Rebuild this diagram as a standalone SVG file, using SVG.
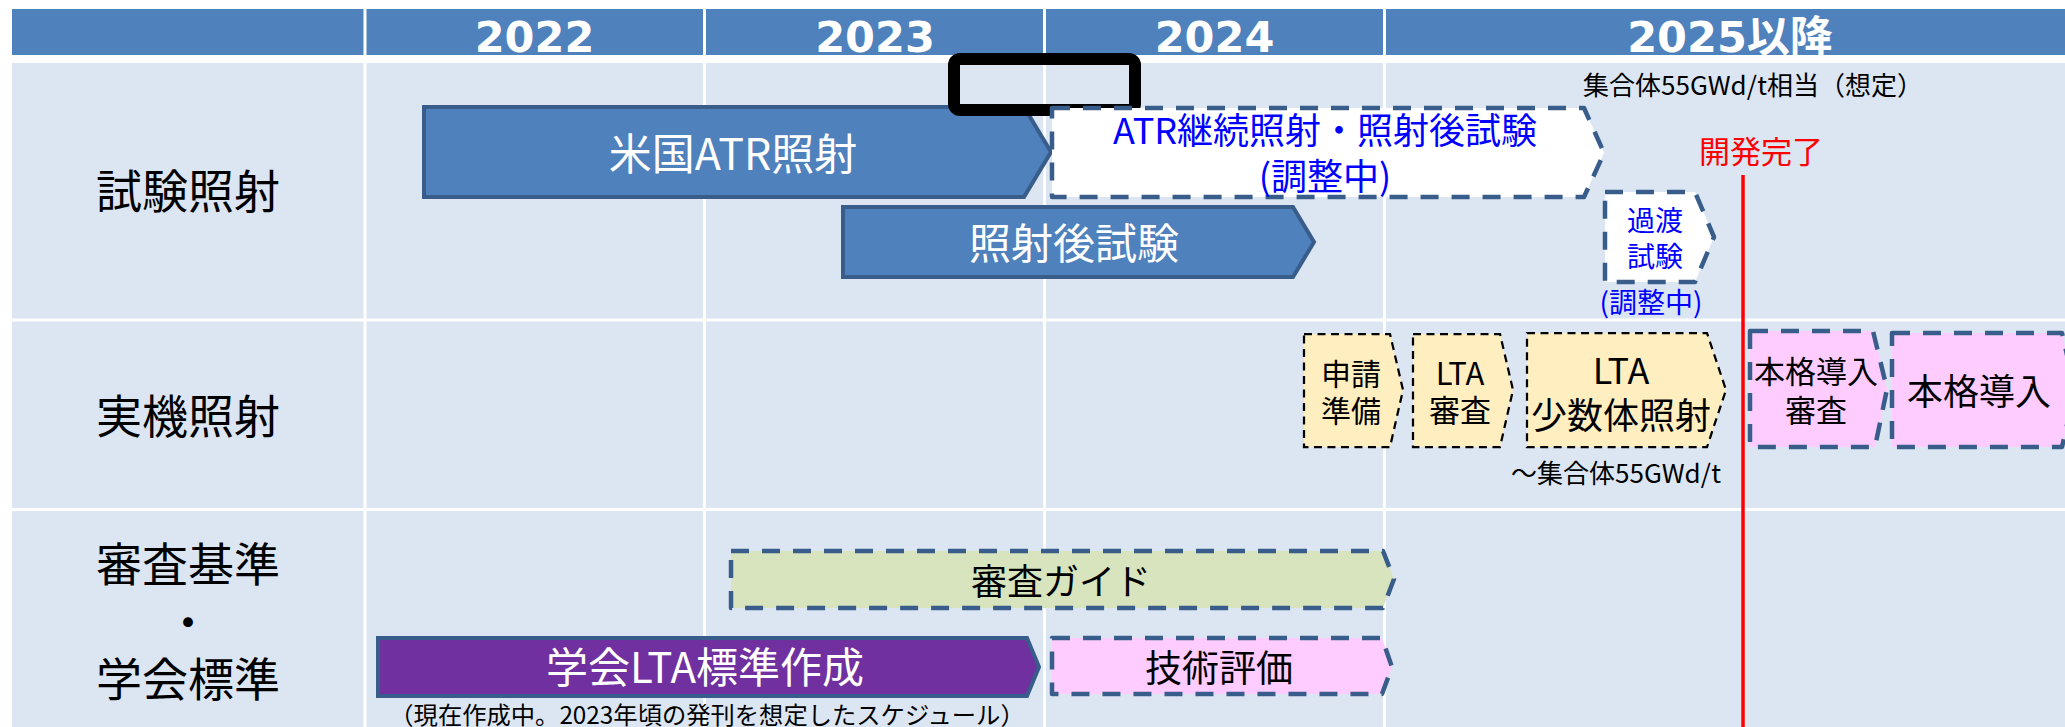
<svg xmlns="http://www.w3.org/2000/svg" width="2065" height="727" viewBox="0 0 2065 727">
<style>
text{font-family:"Noto Sans CJK JP","Noto Sans",sans-serif;text-anchor:middle}
.hdr{font-family:"DejaVu Sans","Noto Sans CJK JP",sans-serif;font-weight:bold;font-size:43px;fill:#fff}
.lbl{font-size:46px;fill:#000}
.solid{fill:#4F81BD;stroke:#385D8A;stroke-width:4;stroke-linejoin:miter}
.dash{stroke:#385D8A;stroke-width:4.5;stroke-dasharray:18 13;stroke-linejoin:round}
.ydash{fill:#FFEFC0;stroke:#000;stroke-width:2.25;stroke-dasharray:8 5.5}
.w{fill:#fff}
.b{fill:#0000FF}
.k{fill:#000}
.grid{stroke:#fff;stroke-width:3}
</style>
<rect x="0" y="0" width="2065" height="727" fill="#fff"/>
<g id="table">
<rect x="12" y="9" width="2053" height="46" fill="#4F81BD"/>
<rect x="12" y="63" width="2053" height="664" fill="#DCE6F2"/>
<line class="grid" x1="365" y1="9" x2="365" y2="727"/>
<line class="grid" x1="704.5" y1="9" x2="704.5" y2="727"/>
<line class="grid" x1="1044.5" y1="9" x2="1044.5" y2="727"/>
<line class="grid" x1="1384.5" y1="9" x2="1384.5" y2="727"/>
<line class="grid" x1="12" y1="320" x2="2065" y2="320"/>
<line class="grid" x1="12" y1="509.5" x2="2065" y2="509.5"/>
<text class="hdr" x="534.5" y="52">2022</text>
<text class="hdr" x="875" y="52">2023</text>
<text class="hdr" x="1214.5" y="52">2024</text>
<text class="hdr" x="1730" y="52">2025以降</text>
</g>
<g id="row-labels">
<text class="lbl" x="188" y="208">試験照射</text>
<text class="lbl" x="188" y="433">実機照射</text>
<text class="lbl" x="188" y="581">審査基準</text>
<text class="lbl" x="188" y="639">・</text>
<text class="lbl" x="188" y="696">学会標準</text>
</g>
<g id="us-atr">
<polygon class="solid" points="424,107 1024,107 1051,152 1024,197 424,197"/>
<text class="w" x="733" y="170" font-size="43">米国ATR照射</text>
</g>
<g id="pie">
<polygon class="solid" points="843,207 1293,207 1314,242 1293,277 843,277"/>
<text class="w" x="1074" y="259" font-size="42">照射後試験</text>
</g>
<g id="highlight">
<rect x="954" y="59" width="181" height="51" rx="6" fill="none" stroke="#000" stroke-width="12"/>
</g>
<g id="atr-cont">
<polygon class="dash" fill="#fff" points="1052,108 1584,108 1604,153 1584,197 1052,197"/>
<text class="b" x="1325" y="144" font-size="36">ATR継続照射・照射後試験</text>
<text class="b" x="1325" y="190" font-size="36">(調整中)</text>
</g>
<g id="transient">
<polygon class="dash" fill="#fff" points="1605,192 1695,192 1714,237 1695,282 1605,282"/>
<text class="b" x="1655" y="230.5" font-size="28">過渡</text>
<text class="b" x="1655" y="267" font-size="28">試験</text>
<text class="b" x="1651" y="313" font-size="28">(調整中)</text>
</g>
<g id="note-55">
<text class="k" x="1753" y="95" font-size="26">集合体55GWd/t相当（想定）</text>
</g>
<g id="milestone">
<line x1="1743" y1="175" x2="1743" y2="727" stroke="#FF0000" stroke-width="3.5"/>
<text x="1761" y="163" font-size="31" fill="#FF0000">開発完了</text>
</g>
<g id="apply-prep">
<polygon class="ydash" points="1304,334 1390,334 1403,390 1390,447 1304,447"/>
<text class="k" x="1351" y="385" font-size="30">申請</text>
<text class="k" x="1351" y="421.5" font-size="30">準備</text>
</g>
<g id="lta-review">
<polygon class="ydash" points="1413,334 1500,334 1513,390 1500,447 1413,447"/>
<text class="k" x="1460" y="385" font-size="31">LTA</text>
<text class="k" x="1460" y="421.5" font-size="31">審査</text>
</g>
<g id="lta-irr">
<polygon class="ydash" points="1527,333 1707,333 1726,390 1707,447 1527,447"/>
<text class="k" x="1621" y="383.5" font-size="36">LTA</text>
<text class="k" x="1621" y="428.5" font-size="36">少数体照射</text>
<text class="k" x="1616" y="483" font-size="26">～集合体55GWd/t</text>
</g>
<g id="full-review">
<polygon class="dash" fill="#FFCCFF" points="1750,331 1873,331 1887,389 1875,447 1750,447"/>
<text class="k" x="1816" y="382.5" font-size="31">本格導入</text>
<text class="k" x="1816" y="421.5" font-size="31">審査</text>
</g>
<g id="full-intro">
<polygon class="dash" fill="#FFCCFF" points="1892,333 2062,333 2075,390 2062,447 1892,447"/>
<text class="k" x="1979" y="404.5" font-size="36">本格導入</text>
</g>
<g id="guide">
<polygon class="dash" fill="#D7E4BD" points="731,551 1383,551 1394,579 1383,608 731,608"/>
<text class="k" x="1061" y="594.5" font-size="36">審査ガイド</text>
</g>
<g id="standard">
<polygon points="378,638 1027,638 1039,667 1027,696 378,696" fill="#7030A0" stroke="#385D8A" stroke-width="4"/>
<text class="w" x="705" y="683" font-size="42">学会LTA標準作成</text>
<text class="k" x="707" y="724" font-size="24.3">（現在作成中。2023年頃の発刊を想定したスケジュール）</text>
</g>
<g id="tech-eval">
<polygon class="dash" fill="#FFCCFF" points="1052,638 1382,638 1392,667 1382,694 1052,694"/>
<text class="k" x="1219" y="682" font-size="37">技術評価</text>
</g>
<g id="connectors"></g>
</svg>
